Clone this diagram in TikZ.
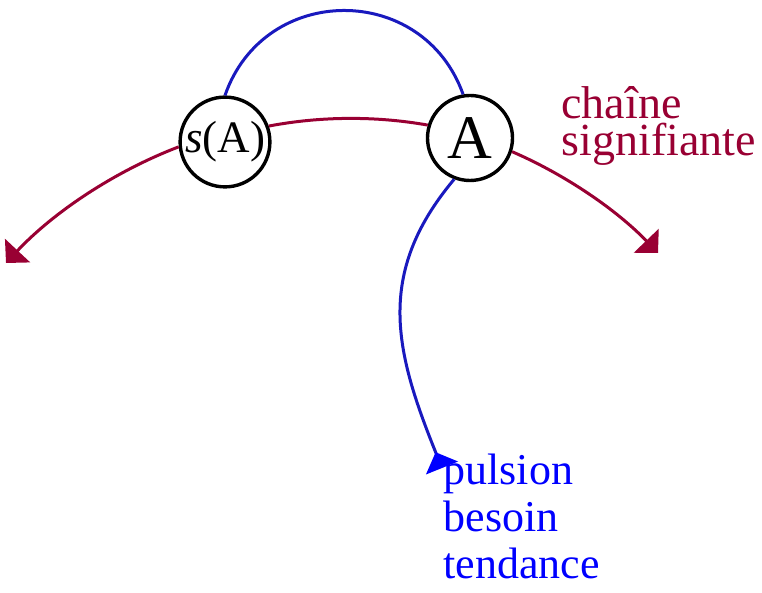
\documentclass[tikz,border=0pt]{standalone}
\usepackage{fontspec}
\setmainfont{Liberation Serif}
\usetikzlibrary{arrows.meta}
\definecolor{chainred}{RGB}{153,0,51}
\definecolor{driveblue}{RGB}{25,25,190}

\begin{document}
\begin{tikzpicture}[x=1pt,y=1pt,>={Triangle[length=17pt,width=34pt]},
  signe/.style={circle,draw=black,line width=3.4pt,fill=white,inner sep=0pt,minimum size=85pt},
  chaine/.style={chainred,line width=3pt},
  pousse/.style={driveblue,line width=3pt}]
  \useasboundingbox (0,0) rectangle (762,592);
  \coordinate (debut) at (6,329);
  \coordinate (fin) at (658,339);
  \coordinate (source) at (442,124);
  \node[signe,font=\fontsize{45}{45}\selectfont] (sA) at (225,450) {\textit{s}(A)};
  \node[signe,font=\fontsize{62}{62}\selectfont] (A) at (470,454) {A};
  % chaine signifiante
  \draw[chaine,{>[reversed]}-] (debut) to[bend left=13,looseness=0.85] (sA.186);
  \draw[chaine] (sA.20) to[bend left=10.4,looseness=0.85] (A.163);
  \draw[chaine,->] (A.-18) to[bend left=11.4,looseness=0.85] (fin);
  % pulsion
  \draw[pousse] (sA.north) to[bend left=70.6,looseness=1.28] (A.99);
  \draw[pousse,-{>[reversed,color=blue]}] (A.249) to[out=230,in=112,looseness=1.1] (source);
  \node[chainred,font=\fontsize{46}{37}\selectfont,align=left,anchor=base west] (chaine) at (558,436) {chaîne\\signifiante};
  \node[blue,font=\fontsize{44}{47}\selectfont,align=left,anchor=base west] (tendance) at (440,14) {pulsion\\besoin\\tendance};
\end{tikzpicture}
\end{document}
